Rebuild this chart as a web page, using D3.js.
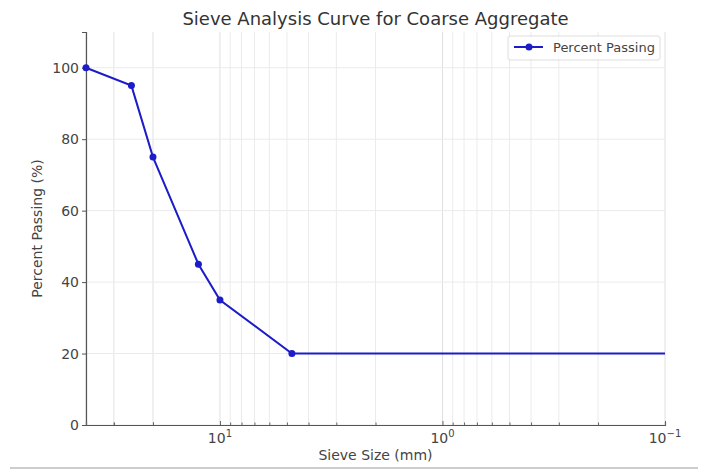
<!DOCTYPE html>
<html>
<head>
<meta charset="utf-8">
<script src="https://cdn.jsdelivr.net/npm/d3@7"></script>
<style>
  html, body { margin: 0; padding: 0; background: #fff; }
  svg { display: block; font-family: "DejaVu Sans", sans-serif; }
</style>
</head>
<body>
<div id="chart"></div>
<script>
// ---- data ----
const sieveSizes = [40, 25, 20, 12.5, 10, 4.75, 0.075];
const percentPassing = [100, 95, 75, 45, 35, 20, 20];
const yTicks = [0, 20, 40, 60, 80, 100];
const xMajorTicks = [10, 1, 0.1];
const xTickLabels = [["10", "1"], ["10", "0"], ["10", "\u22121"]];
const titleText = "Sieve Analysis Curve for Coarse Aggregate";
const xLabelText = "Sieve Size (mm)";
const yLabelText = "Percent Passing (%)";
const legendText = "Percent Passing";

const W = 701, H = 469;
const margin = { left: 86, right: 36, top: 32, bottom: 44 };
const iw = W - margin.left - margin.right;
const ih = H - margin.top - margin.bottom;

const svg = d3.select("#chart").append("svg").attr("width", W).attr("height", H);

const x = d3.scaleLog().domain([40, 0.1]).range([0, iw]);
const y = d3.scaleLinear().domain([0, 110]).range([ih, 0]);

const g = svg.append("g").attr("transform", `translate(${margin.left},${margin.top})`);

// minor + major vertical grid values
const gridVals = [];
[0.1, 1, 10].forEach(dec => {
  for (let k = 1; k <= 9; k++) {
    const v = +(dec * k).toPrecision(3);
    if (v <= 40 && v >= 0.1) gridVals.push(v);
  }
});
gridVals.push(20, 30, 40);

g.append("g").selectAll("line").data(gridVals).join("line")
  .attr("x1", d => x(d)).attr("x2", d => x(d))
  .attr("y1", 0).attr("y2", ih)
  .attr("stroke", d => xMajorTicks.includes(d) ? "#e0e0e0" : "#ebebeb")
  .attr("stroke-width", 1);

g.append("g").selectAll("line").data(yTicks).join("line")
  .attr("x1", 0).attr("x2", iw)
  .attr("y1", d => y(d)).attr("y2", d => y(d))
  .attr("stroke", "#ebebeb").attr("stroke-width", 1);

// axes
const yAxis = d3.axisLeft(y).tickValues(yTicks).tickSize(4).tickPadding(3);
const yg = g.append("g").call(yAxis);
yg.select(".domain").attr("stroke", "#555").attr("stroke-width", 1.2);
yg.selectAll(".tick line").attr("stroke", "#555");
yg.selectAll(".tick text").attr("font-size", 14).attr("fill", "#444")
  .attr("font-family", "DejaVu Sans, sans-serif");

const xAxis = d3.axisBottom(x).tickValues(gridVals).tickSize(-3).tickFormat("");
const xg = g.append("g").attr("transform", `translate(0,${ih})`).call(xAxis);
xg.select(".domain").attr("stroke", "#555").attr("stroke-width", 1.2);
xg.selectAll(".tick line").attr("stroke", "#666")
  .attr("y2", d => xMajorTicks.includes(d) ? -4 : -2.5);

// major x tick labels with superscripts
const xl = g.append("g").selectAll("text").data(xMajorTicks).join("text")
  .attr("x", d => x(d)).attr("y", ih + 18)
  .attr("text-anchor", "middle").attr("font-size", 14).attr("fill", "#444");
xl.append("tspan").text((d, i) => xTickLabels[i][0]);
xl.append("tspan").attr("dy", -6).attr("font-size", 10).text((d, i) => xTickLabels[i][1]);

// clip
svg.append("defs").append("clipPath").attr("id", "clip")
  .append("rect").attr("x", -6).attr("y", -6).attr("width", iw + 6).attr("height", ih + 12);
const data = sieveSizes.map((s, i) => ({ s, p: percentPassing[i] }));
const plot = g.append("g").attr("clip-path", "url(#clip)");
const lineColor = "#1c1cc8";
plot.append("path").datum(data)
  .attr("d", d3.line().x(d => x(d.s)).y(d => y(d.p)))
  .attr("fill", "none").attr("stroke", lineColor).attr("stroke-width", 2);
plot.selectAll("circle").data(data).join("circle")
  .attr("cx", d => x(d.s)).attr("cy", d => y(d.p)).attr("r", 3.5)
  .attr("fill", lineColor);

// title & labels
svg.append("text").attr("x", margin.left + iw / 2).attr("y", 25)
  .attr("text-anchor", "middle").attr("font-size", 18).attr("fill", "#333").text(titleText);
svg.append("text").attr("x", margin.left + iw / 2).attr("y", 460)
  .attr("text-anchor", "middle").attr("font-size", 14).attr("fill", "#444").text(xLabelText);
svg.append("text").attr("transform", `translate(42,${margin.top + ih / 2}) rotate(-90)`)
  .attr("text-anchor", "middle").attr("font-size", 14).attr("fill", "#444").text(yLabelText);

// legend
const lg = svg.append("g").attr("transform", `translate(508,36)`);
lg.append("rect").attr("width", 152).attr("height", 24).attr("rx", 2)
  .attr("fill", "#fff").attr("fill-opacity", 0.85).attr("stroke", "#ddd");
lg.append("line").attr("x1", 6).attr("x2", 35).attr("y1", 11).attr("y2", 11)
  .attr("stroke", lineColor).attr("stroke-width", 2);
lg.append("circle").attr("cx", 21).attr("cy", 11).attr("r", 3.5).attr("fill", lineColor);
lg.append("text").attr("x", 45).attr("y", 16).attr("font-size", 13).attr("fill", "#444").text(legendText);

// bottom frame line
svg.append("line").attr("x1", 10).attr("x2", 698).attr("y1", 468).attr("y2", 468)
  .attr("stroke", "#999").attr("stroke-width", 1);
</script>
</body>
</html>
